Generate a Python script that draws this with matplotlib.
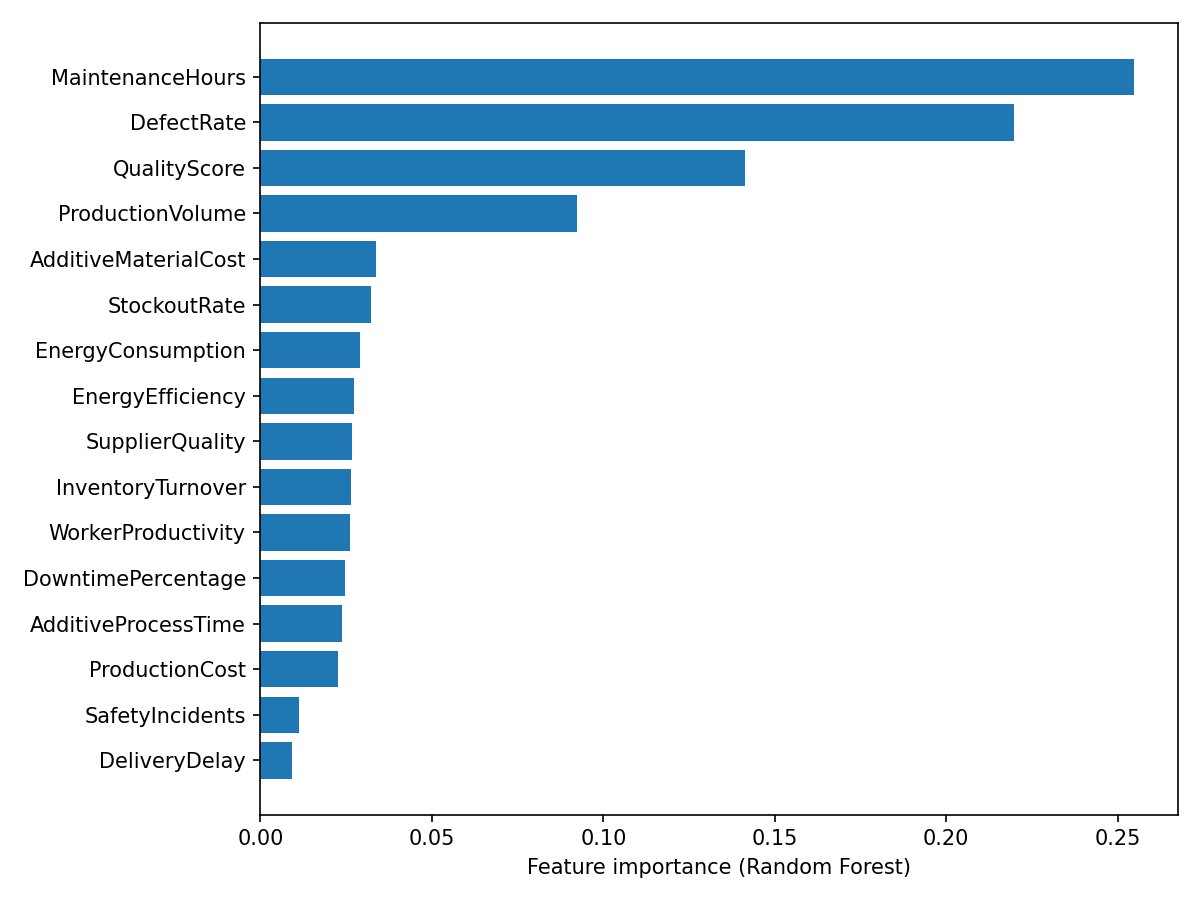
import numpy as np
import matplotlib
matplotlib.use("Agg")
from matplotlib import pyplot as plt

features = [
    "MaintenanceHours", "DefectRate", "QualityScore", "ProductionVolume",
    "AdditiveMaterialCost", "StockoutRate", "EnergyConsumption",
    "EnergyEfficiency", "SupplierQuality", "InventoryTurnover",
    "WorkerProductivity", "DowntimePercentage", "AdditiveProcessTime",
    "ProductionCost", "SafetyIncidents", "DeliveryDelay",
]
importances = [
    0.2547, 0.2197, 0.1412, 0.0922,
    0.0338, 0.0321, 0.0289,
    0.0274, 0.0268, 0.0263,
    0.0260, 0.0248, 0.0239,
    0.0225, 0.0111, 0.0093,
]

# smallest at bottom
feat_sorted = features[::-1]
imp_sorted = importances[::-1]

fig, ax = plt.subplots(figsize=(8, 6), dpi=150)
ax.barh(feat_sorted, imp_sorted, color="#1f77b4")
ax.set_xlabel("Feature importance (Random Forest)")
plt.tight_layout()
plt.savefig("out.png")
